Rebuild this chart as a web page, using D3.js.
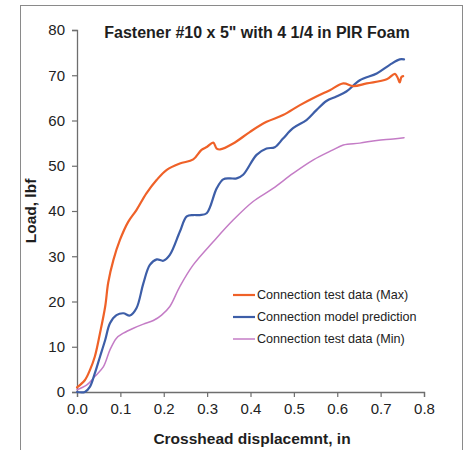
<!DOCTYPE html>
<html><head><meta charset="utf-8">
<script src="https://cdn.jsdelivr.net/npm/d3@7"></script>
<style>
html,body{margin:0;padding:0;background:#fff;}
svg{display:block;font-family:"Liberation Sans",Arial,sans-serif;}
</style></head>
<body>
<svg id="c" width="467" height="450"></svg>
<script>
const title = "Fastener #10 x 5\" with 4 1/4 in PIR Foam";
const xLabel = "Crosshead displacemnt, in";
const yLabel = "Load, lbf";
const seriesNames = ["Connection test data (Max)", "Connection model prediction", "Connection test data (Min)"];
const seriesColors = ["#ef6128", "#3d5ea8", "#c47cc6"];
const xTicks = [0, 0.1, 0.2, 0.3, 0.4, 0.5, 0.6, 0.7, 0.8];
const yTicks = [0, 10, 20, 30, 40, 50, 60, 70, 80];

const maxX = [0, 0.018, 0.03, 0.041, 0.053, 0.065, 0.072, 0.084, 0.099, 0.118, 0.137, 0.16, 0.184, 0.207, 0.237, 0.268, 0.287, 0.300, 0.314, 0.322, 0.33, 0.36, 0.399, 0.437, 0.475, 0.514, 0.552, 0.583, 0.614, 0.637, 0.668, 0.714, 0.733, 0.740, 0.744, 0.748, 0.752];
const maxY = [1, 2.6, 4.9, 7.8, 13, 18.9, 24.2, 29.2, 33.6, 37.6, 40.2, 43.9, 46.9, 49.1, 50.5, 51.4, 53.5, 54.2, 55.1, 53.8, 53.6, 54.9, 57.5, 59.7, 61.2, 63.4, 65.3, 66.7, 68.2, 67.6, 68.2, 69.1, 70.3, 69.3, 68.4, 69.6, 69.8];

const modelX = [0, 0.018, 0.03, 0.041, 0.053, 0.065, 0.076, 0.091, 0.107, 0.122, 0.137, 0.153, 0.168, 0.184, 0.199, 0.214, 0.237, 0.253, 0.268, 0.283, 0.299, 0.322, 0.337, 0.352, 0.368, 0.383, 0.414, 0.437, 0.456, 0.475, 0.498, 0.529, 0.552, 0.575, 0.598, 0.621, 0.652, 0.691, 0.721, 0.744, 0.754];
const modelY = [0, 0, 1.2, 4.1, 7.8, 11.5, 15.2, 17, 17.4, 16.9, 18.5, 24, 28.1, 29.3, 29, 30.3, 35.4, 38.8, 39.1, 39.1, 39.5, 45, 47, 47.2, 47.2, 48, 52.4, 53.8, 54.1, 56, 58.3, 60.1, 62.3, 64.3, 65.3, 66.4, 68.9, 70.4, 72.3, 73.5, 73.5];

const minX = [0, 0.022, 0.041, 0.061, 0.076, 0.091, 0.107, 0.13, 0.153, 0.176, 0.195, 0.214, 0.237, 0.268, 0.314, 0.36, 0.406, 0.452, 0.498, 0.545, 0.59, 0.614, 0.652, 0.691, 0.729, 0.754];
const minY = [0.5, 1.5, 3.4, 5.6, 9.3, 11.9, 13, 14.1, 15, 15.8, 17, 18.9, 23.3, 28.1, 33.2, 38, 42.1, 45, 48.3, 51.3, 53.5, 54.6, 55, 55.6, 55.9, 56.2];

const seriesX = [maxX, modelX, minX];
const seriesY = [maxY, modelY, minY];
const widths = [2.2, 2.2, 1.5];

const svg = d3.select("#c");
svg.append("rect").attr("x", 20.5).attr("y", 5.5).attr("width", 442).attr("height", 460)
  .attr("fill", "none").attr("stroke", "#8a8a8a").attr("stroke-width", 1);

const x = d3.scaleLinear().domain([0, 0.8]).range([77, 424]);
const y = d3.scaleLinear().domain([0, 80]).range([392, 30]);

const axisColor = "#6e6e6e";
const gx = svg.append("g").attr("transform", "translate(0,392)")
  .call(d3.axisBottom(x).tickValues(xTicks).tickFormat(d3.format(".1f")).tickSize(5).tickPadding(6));
const gy = svg.append("g").attr("transform", "translate(77,0)")
  .call(d3.axisLeft(y).tickValues(yTicks).tickSize(5).tickPadding(7));
[gx, gy].forEach(g => {
  g.select(".domain").attr("stroke", axisColor).attr("stroke-width", 1.3);
  g.selectAll(".tick line").attr("stroke", axisColor).attr("stroke-width", 1.2);
  g.selectAll(".tick text").attr("fill", "#222").style("font-size", "15px")
    .style("font-family", "'Liberation Sans', Arial, sans-serif");
});

const line = d3.line().x(d => x(d[0])).y(d => y(d[1])).curve(d3.curveCatmullRom.alpha(0.5));
[2, 1, 0].forEach(i => {
  const pts = seriesX[i].map((v, k) => [v, seriesY[i][k]]);
  svg.append("path").datum(pts).attr("d", line).attr("fill", "none")
    .attr("stroke", seriesColors[i]).attr("stroke-width", widths[i])
    .attr("stroke-linejoin", "round").attr("stroke-linecap", "round");
});

svg.append("text").attr("x", 257).attr("y", 38).attr("text-anchor", "middle")
  .style("font-size", "16px").style("font-weight", "bold").attr("fill", "#1e1e1e").text(title);
svg.append("text").attr("x", 252).attr("y", 444).attr("text-anchor", "middle")
  .style("font-size", "15.5px").style("font-weight", "bold").attr("fill", "#1e1e1e").text(xLabel);
svg.append("text").attr("transform", "translate(36,211) rotate(-90)").attr("text-anchor", "middle")
  .style("font-size", "15.5px").style("font-weight", "bold").attr("fill", "#1e1e1e").text(yLabel);

const legY = [295, 317, 339];
seriesNames.forEach((n, i) => {
  svg.append("line").attr("x1", 233).attr("x2", 255).attr("y1", legY[i]).attr("y2", legY[i])
    .attr("stroke", seriesColors[i]).attr("stroke-width", widths[i]);
  svg.append("text").attr("x", 257).attr("y", legY[i]).attr("dy", "0.35em")
    .style("font-size", "12.6px").attr("fill", "#222").text(n);
});
</script>
</body></html>
